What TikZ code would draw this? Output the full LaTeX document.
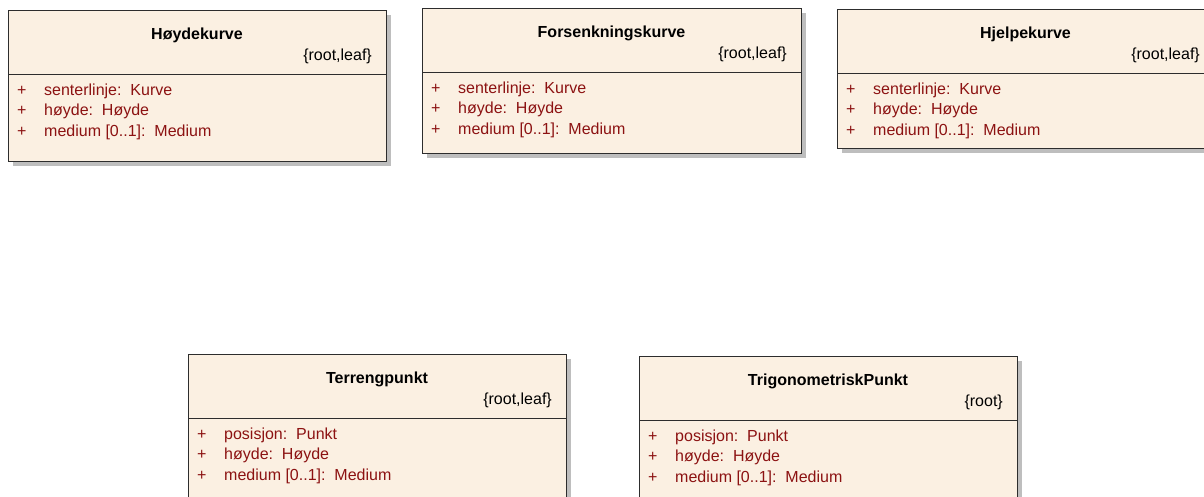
\documentclass[tikz,border=0pt]{standalone}
\usepackage{fontspec}
\setmainfont{Liberation Sans}
\definecolor{classfill}{RGB}{251,240,226}
\definecolor{classline}{RGB}{45,45,45}
\definecolor{classshadow}{RGB}{190,190,190}
\definecolor{attrred}{RGB}{140,18,18}
\newcommand{\rootleaf}{\{root,leaf\}}
\newcommand{\rootonly}{\{root\}}
\tikzset{
  classtitle/.style={font=\fontsize{16}{18}\selectfont\bfseries, anchor=base, inner sep=0pt},
  classtag/.style={font=\fontsize{16}{18}\selectfont, anchor=base east, inner sep=0pt},
  attrtext/.style={font=\fontsize{16}{18}\selectfont, text=attrred, anchor=base west, inner sep=0pt}
}
\begin{document}
\begin{tikzpicture}[x=1pt,y=-1pt]
\clip (0,0) rectangle (1204,496);
\fill [white] (0,0) rectangle (1204,496);
\foreach \cname/\cx/\cy/\cw/\ch/\ctitle/\ctag/\cattr/\ctype in {
    hoyde/8/10/378/151/Høydekurve/\rootleaf/senterlinje/Kurve,
    forsenkning/422/8/379/145/Forsenkningskurve/\rootleaf/senterlinje/Kurve,
    hjelp/837/9/377/139/Hjelpekurve/\rootleaf/senterlinje/Kurve,
    terreng/188/354/378/160/Terrengpunkt/\rootleaf/posisjon/Punkt,
    trig/639/356/378/160/TrigonometriskPunkt/\rootonly/posisjon/Punkt} {
  % shadow, box and divider
  \fill [classshadow] (\cx+5,\cy+5) rectangle (\cx+\cw+5,\cy+\ch+5);
  \filldraw [fill=classfill, draw=classline, line width=1pt] (\cx,\cy) rectangle (\cx+\cw,\cy+\ch);
  \draw [classline, line width=1pt] (\cx,\cy+64) -- (\cx+\cw,\cy+64);
  % name and tag
  \node [classtitle] (\cname-title) at (\cx+\cw/2,\cy+29) {\ctitle};
  \node [classtag] (\cname-tag) at (\cx+\cw-14,\cy+50) {\ctag};
  % attributes
  \node [attrtext] (\cname-sign1) at (\cx+9,\cy+85)    {+};
  \node [attrtext] (\cname-attr1) at (\cx+36,\cy+85)   {\cattr:\ \ \ctype};
  \node [attrtext] (\cname-sign2) at (\cx+9,\cy+105.5) {+};
  \node [attrtext] (\cname-attr2) at (\cx+36,\cy+105.5) {høyde:\ \ Høyde};
  \node [attrtext] (\cname-sign3) at (\cx+9,\cy+126.5) {+};
  \node [attrtext] (\cname-attr3) at (\cx+36,\cy+126.5) {medium [0..1]:\ \ Medium};
}
\end{tikzpicture}
\end{document}
